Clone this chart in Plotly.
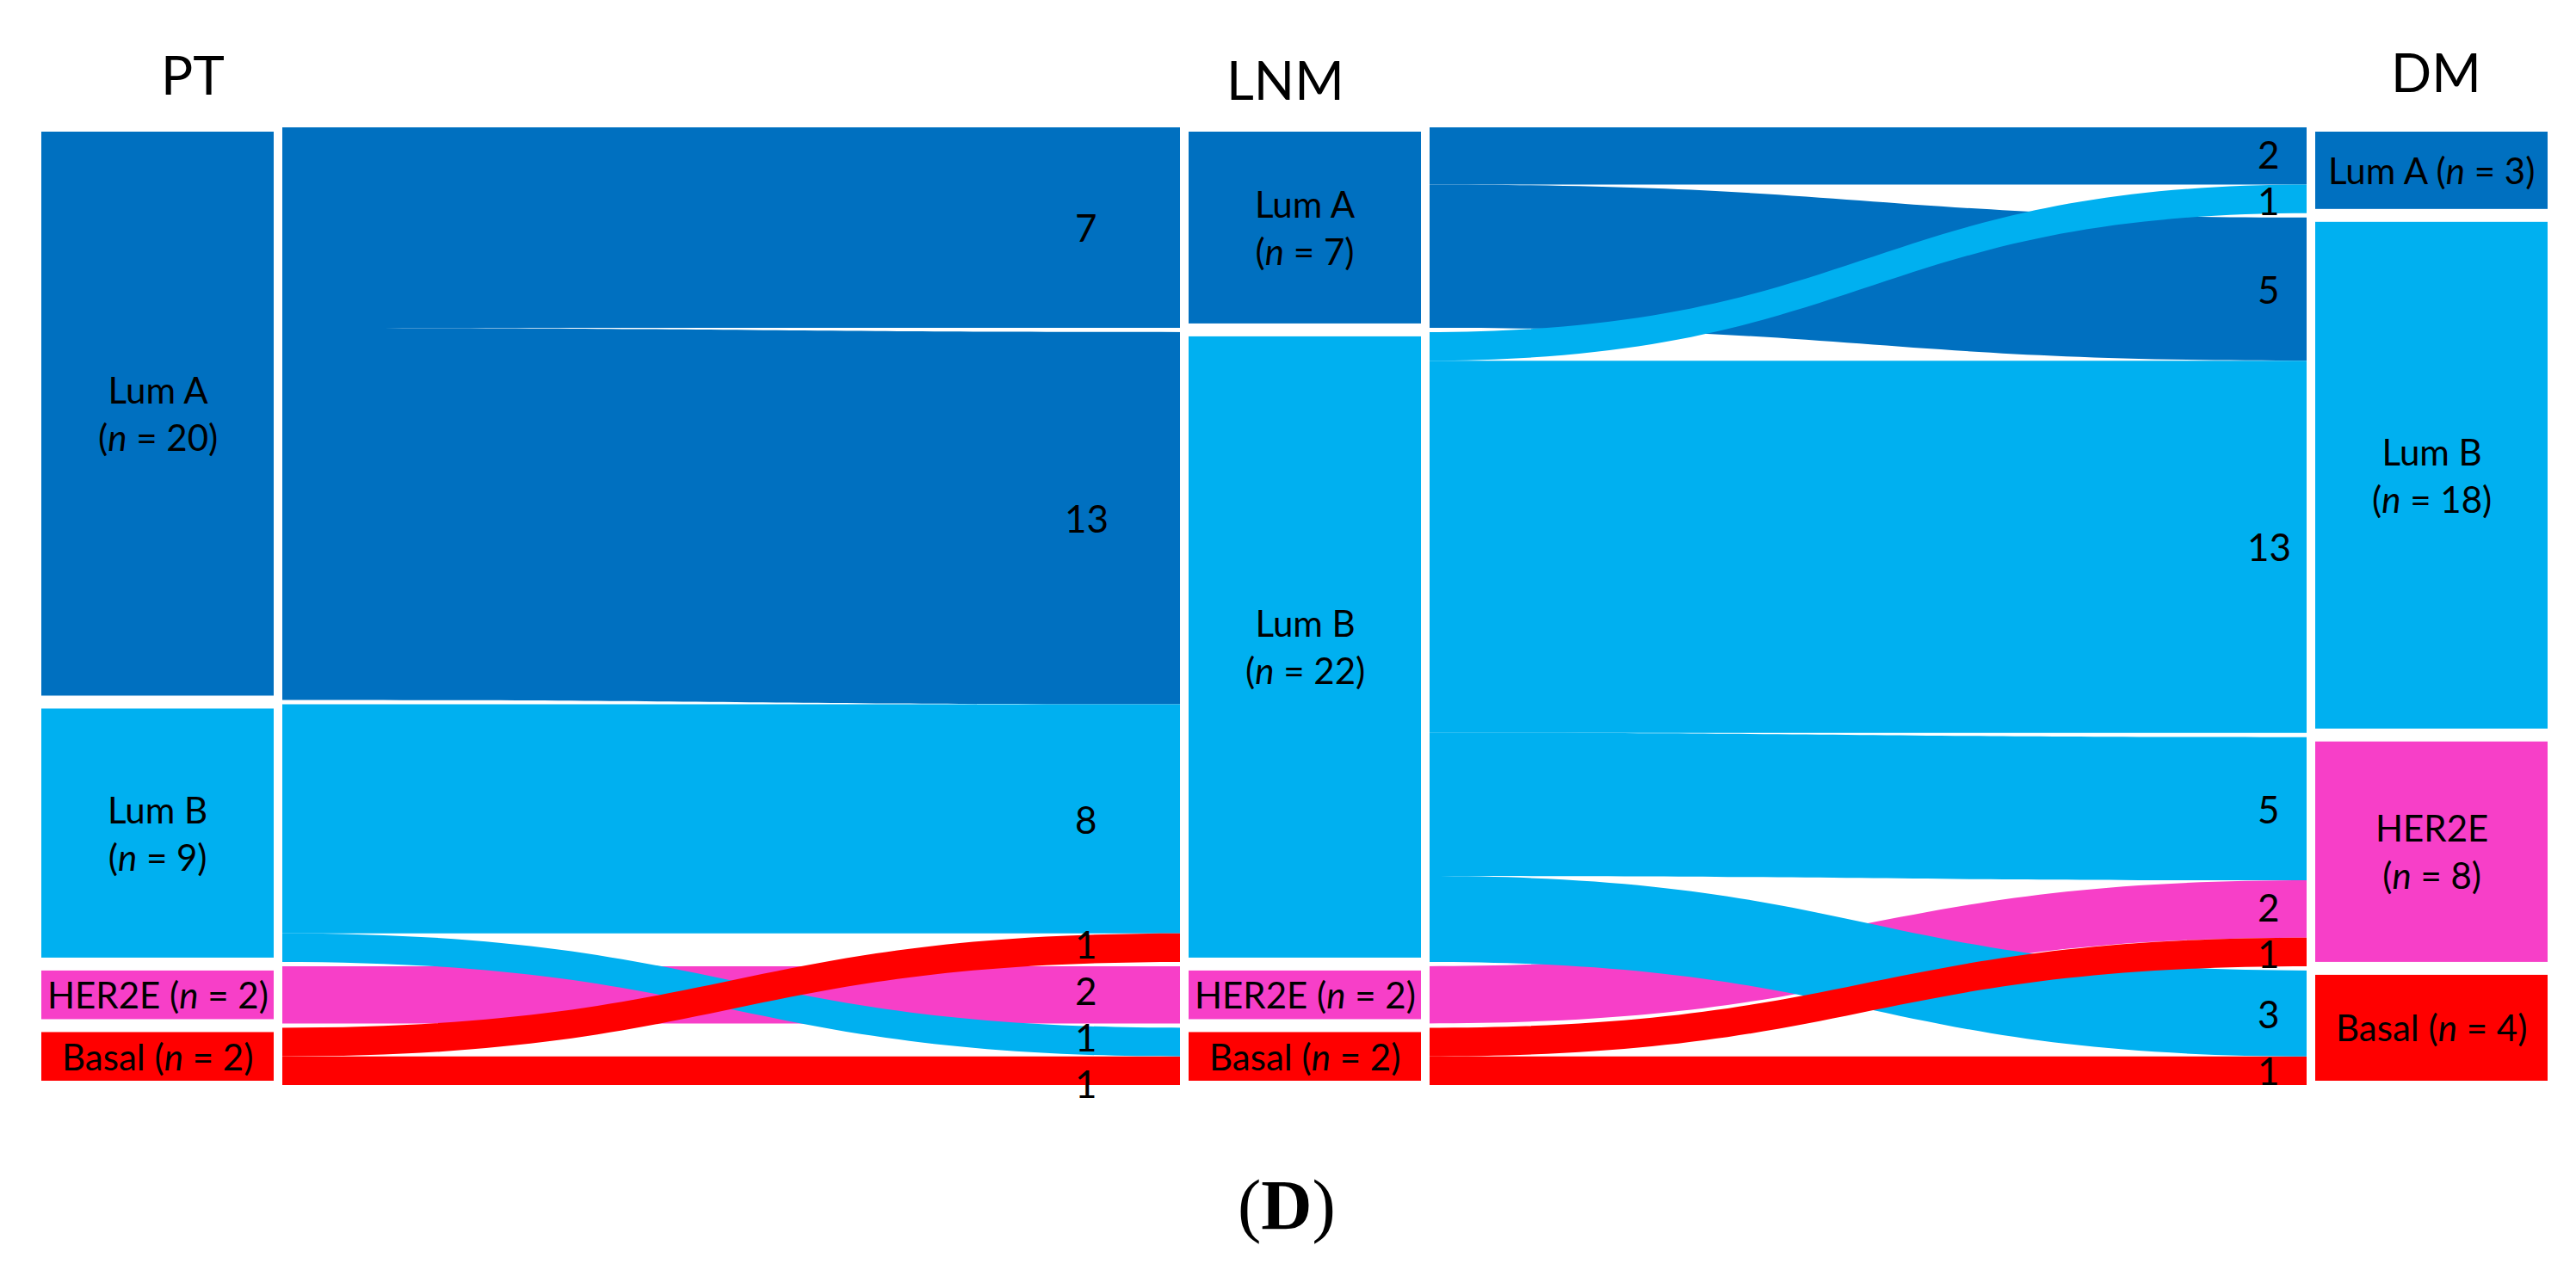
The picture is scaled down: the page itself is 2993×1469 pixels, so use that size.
import plotly.graph_objects as go

# ---------------- data ----------------
stages = ["PT", "LNM", "DM"]
subtypes = ["Lum A", "Lum B", "HER2E", "Basal"]
subtype_colors = ["#0070C0", "#00B0F0", "#F73FC8", "#FF0000"]

pt_counts = [20, 9, 2, 2]
lnm_counts = [7, 22, 2, 2]
dm_counts = [3, 18, 8, 4]

# flows PT -> LNM (indices into subtypes)
pt_lnm_source = [0, 0, 1, 2, 3, 1, 3]
pt_lnm_target = [0, 1, 1, 2, 3, 3, 1]
pt_lnm_value = [7, 13, 8, 2, 1, 1, 1]

# flows LNM -> DM
lnm_dm_source = [0, 0, 1, 1, 2, 3, 1, 1, 3]
lnm_dm_target = [0, 1, 1, 2, 2, 3, 3, 0, 2]
lnm_dm_value = [2, 5, 13, 5, 2, 1, 3, 1, 1]

# whether the node label is split over two lines
pt_two_line = [True, True, False, False]
lnm_two_line = [True, True, False, False]
dm_two_line = [False, True, True, False]

# ---------------- layout constants ----------------
W, H = 2993, 1469
col_center_px = [183, 1516, 2825]
header_pos_px = [(224, 86), (1493, 92), (2830, 83)]
flow_label_x_px = [1262, 2636]
thickness = 280
node_pad = 5
node_border = 10
top_px, bottom_px = 148, 1261
Hs = bottom_px - top_px
FONT = "Lato"
NUM_SIZE = 44
MIN_SEP = 54

counts_by_stage = [pt_counts, lnm_counts, dm_counts]
two_line_by_stage = [pt_two_line, lnm_two_line, dm_two_line]
flows = [
    (pt_lnm_source, pt_lnm_target, pt_lnm_value),
    (lnm_dm_source, lnm_dm_target, lnm_dm_value),
]

total = sum(pt_counts)
ky = (Hs - (len(subtypes) - 1) * node_pad) / total

node_x, node_y, node_color, node_custom = [], [], [], []
node_top_abs = {}
annotations = []

for s, counts in enumerate(counts_by_stage):
    cum = 0
    for i, v in enumerate(counts):
        top = cum * ky + i * node_pad
        h = v * ky
        node_x.append(col_center_px[s] / W)
        node_y.append((top + h / 2) / Hs)
        node_color.append(subtype_colors[i])
        node_custom.append(f"{stages[s]} {subtypes[i]} (n = {v})")
        node_top_abs[(s, i)] = top_px + top
        cum += v
        # node label
        sep = "<br>" if two_line_by_stage[s][i] else " "
        text = f"{subtypes[i]}{sep}(<i>n</i> = {v})"
        cy = top_px + top + h / 2
        annotations.append(dict(
            x=col_center_px[s] / W, y=1 - cy / H, xref="paper", yref="paper",
            text=text, showarrow=False, xanchor="center", yanchor="middle",
            font=dict(family=FONT, size=42, color="black"), align="center"))


def spread(positions, min_sep):
    """push label centres apart so neighbouring labels do not collide"""
    pos = list(positions)
    order = sorted(range(len(pos)), key=lambda k: pos[k])
    for _ in range(200):
        moved = False
        for a, b in zip(order[:-1], order[1:]):
            gap = pos[b] - pos[a]
            if gap < min_sep - 0.01:
                d = (min_sep - gap) / 2
                pos[a] -= d
                pos[b] += d
                moved = True
        if not moved:
            break
    return pos


n_sub = len(subtypes)
link_src, link_tgt, link_val, link_col = [], [], [], []
for s, (src, tgt, val) in enumerate(flows):
    for a, b, v in zip(src, tgt, val):
        link_src.append(s * n_sub + a)
        link_tgt.append((s + 1) * n_sub + b)
        link_val.append(v)
        link_col.append(subtype_colors[a])
    # flow value labels at target end (ordered by source position)
    centres, texts = [], []
    for b in range(n_sub):
        incoming = sorted([(a, v) for a, t, v in zip(src, tgt, val) if t == b])
        cum = 0
        for a, v in incoming:
            centres.append(node_top_abs[(s + 1, b)] + (cum + v / 2) * ky)
            texts.append(str(v))
            cum += v
    for cy, t in zip(spread(centres, MIN_SEP), texts):
        annotations.append(dict(
            x=flow_label_x_px[s] / W, y=1 - cy / H, xref="paper", yref="paper",
            text=t, showarrow=False, xanchor="center", yanchor="middle",
            font=dict(family=FONT, size=NUM_SIZE, color="black")))

# stage headers
for s, name in enumerate(stages):
    hx, hy = header_pos_px[s]
    annotations.append(dict(
        x=hx / W, y=1 - hy / H, xref="paper", yref="paper", text=name,
        showarrow=False, xanchor="center", yanchor="middle",
        font=dict(family=FONT, size=62, color="black")))

# panel label
annotations.append(dict(
    x=1495 / W, y=1 - 1400 / H, xref="paper", yref="paper", text="(<b>D</b>)",
    showarrow=False, xanchor="center", yanchor="middle",
    font=dict(family="Liberation Serif", size=82, color="black")))

fig = go.Figure(go.Sankey(
    arrangement="fixed",
    domain=dict(x=[0, 1], y=[1 - bottom_px / H, 1 - top_px / H]),
    node=dict(
        label=[""] * len(node_x),
        x=node_x, y=node_y,
        color=node_color,
        pad=node_pad,
        thickness=thickness,
        line=dict(color="white", width=node_border),
        customdata=node_custom,
        hovertemplate="%{customdata}<extra></extra>",
    ),
    link=dict(
        source=link_src, target=link_tgt, value=link_val,
        color=link_col, line=dict(width=0),
    ),
))

fig.update_layout(
    width=W, height=H,
    margin=dict(l=0, r=0, t=0, b=0),
    paper_bgcolor="white",
    plot_bgcolor="white",
    annotations=annotations,
    showlegend=False,
)

fig.write_html(
    "out.html",
    config={"displayModeBar": False},
    post_script="document.body.style.margin='0';document.body.style.overflow='hidden';",
)
